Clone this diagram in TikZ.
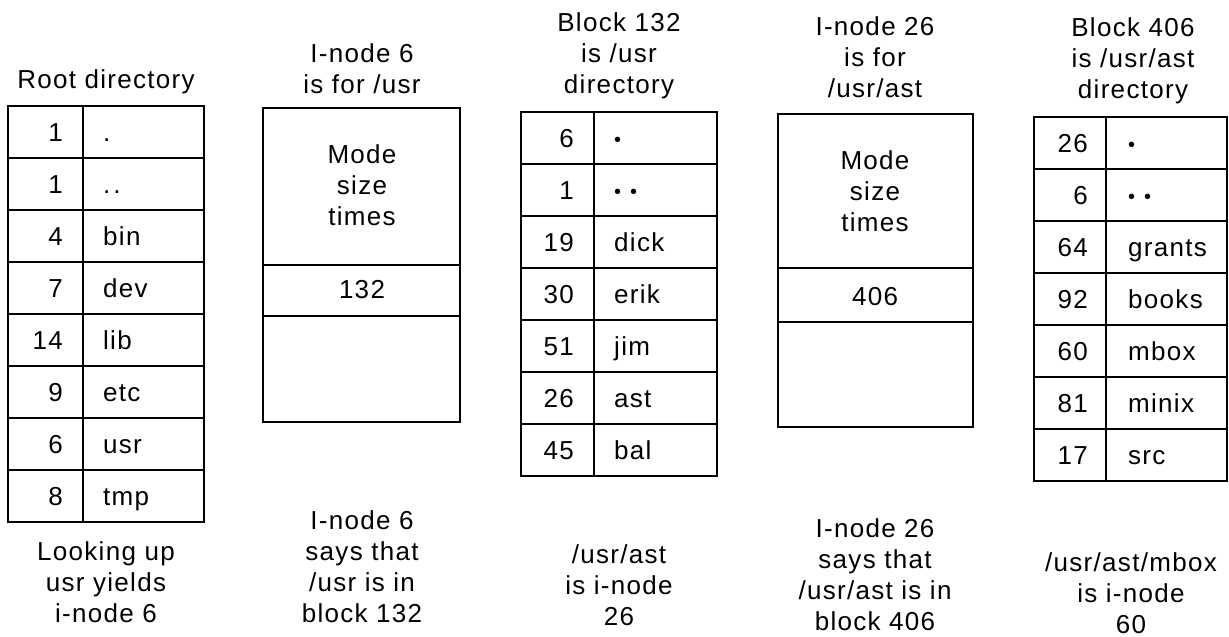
\documentclass[tikz,border=0pt]{standalone}
\usepackage{fontspec}
\setmainfont{Liberation Sans}[LetterSpace=5]
\tikzset{
  frame/.style={line width=2.2pt, line join=miter, line cap=rect},
  lbl/.style={align=center, inner sep=0pt, font=\fontsize{26}{31}\selectfont},
  num/.style={anchor=base east, inner sep=0pt, font=\fontsize{26}{31}\selectfont},
  nam/.style={anchor=base west, inner sep=0pt, font=\fontsize{26}{31}\selectfont},
}
\newcommand\st{\rule[-2pt]{0pt}{24pt}}
\newcommand\bul{{\fontsize{20}{20}\selectfont\raisebox{1pt}{•}}}
\newcommand\bulbul{\bul\hspace{9pt}\bul}
\begin{document}
\begin{tikzpicture}[x=1pt,y=-1pt]
\useasboundingbox (0,0) rectangle (1229,637);

% ---------- Root directory ----------
\draw[frame] (8,106) rectangle (204,522);
\draw[frame] (83,106) -- (83,522);
\foreach \i in {1,...,7} \draw[frame] (8,{106+52*\i}) -- (204,{106+52*\i});
\foreach \n/\t [count=\i] in {1/., 1/.\hspace{3pt}., 4/bin, 7/dev, 14/lib, 9/etc, 6/usr, 8/tmp}{
  \node[num] (rn\i) at (63,{106+52*(\i-0.5)+9}) {\n};
  \node[nam] (rt\i) at (103,{106+52*(\i-0.5)+9}) {\t};
}
\node[lbl] (roottitle) at (106,80) {\st Root directory};
\node[lbl] (rootnote) at (106,581) {\st Looking up\\\st usr yields\\\st i-node 6};

% ---------- I-node 6 ----------
\draw[frame] (263,108) rectangle (460,422);
\draw[frame] (263,265) -- (460,265);
\draw[frame] (263,316) -- (460,316);
\node[lbl] (in6title) at (362,68) {\st I-node 6\\\st is for /usr};
\node[lbl] (in6attr) at (362,184) {\st Mode\\\st size\\\st times};
\node[lbl] (in6blk) at (362,288.5) {\st 132};
\node[lbl] (in6note) at (362,566) {\st I-node 6\\\st says that\\\st /usr is in\\\st block 132};

% ---------- Block 132 ----------
\draw[frame] (521,112) rectangle (717,476);
\draw[frame] (594,112) -- (594,476);
\foreach \i in {1,...,6} \draw[frame] (521,{112+52*\i}) -- (717,{112+52*\i});
\foreach \n/\t [count=\i] in {6/\bul, 1/\bulbul, 19/dick, 30/erik, 51/jim, 26/ast, 45/bal}{
  \node[num] (bn\i) at (574,{112+52*(\i-0.5)+9}) {\n};
  \node[nam] (bt\i) at (614,{112+52*(\i-0.5)+9}) {\t};
}
\node[lbl] (b132title) at (619,54) {\st Block 132\\\st is /usr\\\st directory};
\node[lbl] (b132note) at (619,584) {\st /usr/ast\\\st is i-node\\\st 26};

% ---------- I-node 26 ----------
\draw[frame] (778,114) rectangle (973,427);
\draw[frame] (778,268) -- (973,268);
\draw[frame] (778,322) -- (973,322);
\node[lbl] (in26title) at (875,56.5) {\st I-node 26\\\st is for\\\st /usr/ast};
\node[lbl] (in26attr) at (875,190.5) {\st Mode\\\st size\\\st times};
\node[lbl] (in26blk) at (875,295) {\st 406};
\node[lbl] (in26note) at (875,573.5) {\st I-node 26\\\st says that\\\st /usr/ast is in\\\st block 406};

% ---------- Block 406 ----------
\draw[frame] (1034,117) rectangle (1227,481);
\draw[frame] (1106,117) -- (1106,481);
\foreach \i in {1,...,6} \draw[frame] (1034,{117+52*\i}) -- (1227,{117+52*\i});
\foreach \n/\t [count=\i] in {26/\bul, 6/\bulbul, 64/grants, 92/books, 60/mbox, 81/minix, 17/src}{
  \node[num] (cn\i) at (1088,{117+52*(\i-0.5)+9}) {\n};
  \node[nam] (ct\i) at (1128,{117+52*(\i-0.5)+9}) {\t};
}
\node[lbl] (b406title) at (1133,59.5) {\st Block 406\\\st is /usr/ast\\\st directory};
\node[lbl] (b406note) at (1131,592.5) {\st /usr/ast/mbox\\\st is i-node\\\st 60};
\end{tikzpicture}
\end{document}
